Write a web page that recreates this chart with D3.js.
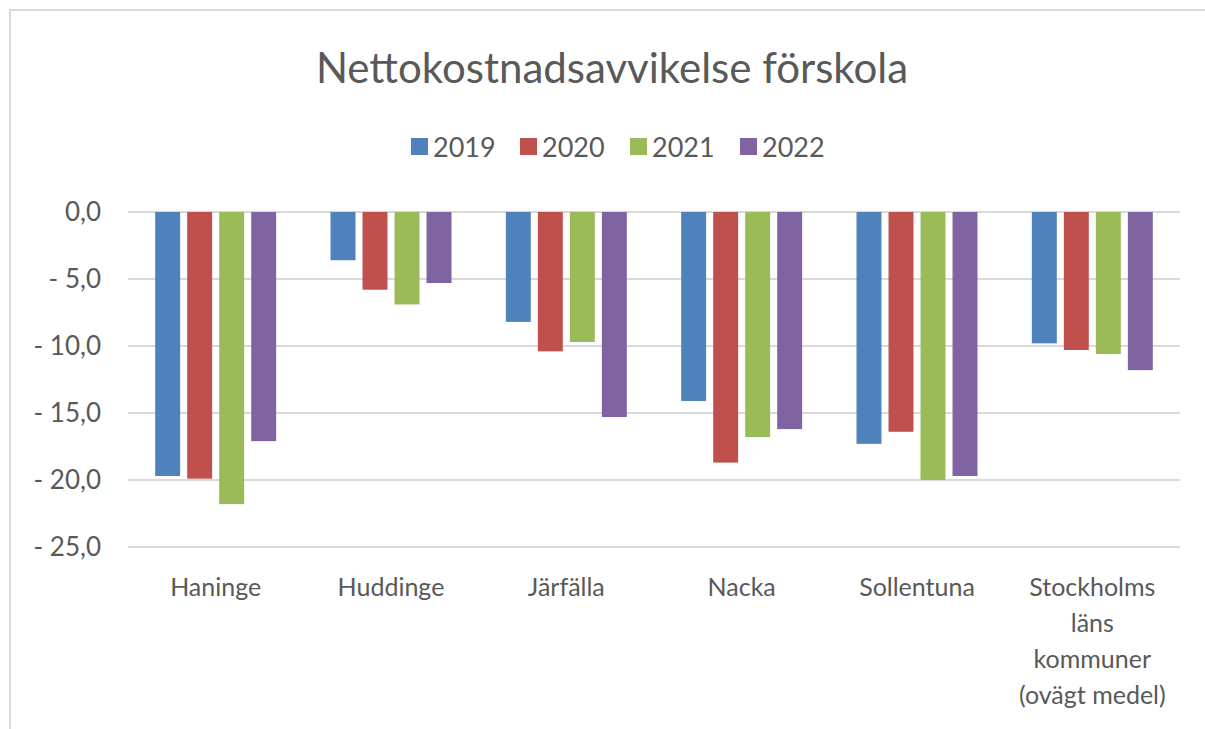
<!DOCTYPE html>
<html>
<head>
<meta charset="utf-8">
<script src="https://cdn.jsdelivr.net/npm/d3@7"></script>
<style>
  body { margin: 0; background: #fff; }
  text { font-family: Lato, "Open Sans", sans-serif; fill: #595959; }
</style>
</head>
<body>
<svg id="chart" width="1205" height="729"></svg>
<script>
var categories = ["Haninge", "Huddinge", "Järfälla", "Nacka", "Sollentuna", "Stockholms läns kommuner (ovägt medel)"];
var categoryLines = [["Haninge"], ["Huddinge"], ["Järfälla"], ["Nacka"], ["Sollentuna"], ["Stockholms", "läns", "kommuner", "(ovägt medel)"]];
var years = ["2019", "2020", "2021", "2022"];
var colors = ["#4f81bd", "#c0504d", "#9bbb59", "#8064a2"];
var values2019 = [-19.7, -3.6, -8.2, -14.1, -17.3, -9.8];
var values2020 = [-19.9, -5.8, -10.4, -18.7, -16.4, -10.3];
var values2021 = [-21.8, -6.9, -9.7, -16.8, -20.0, -10.6];
var values2022 = [-17.1, -5.3, -15.3, -16.2, -19.7, -11.8];
var yTicks = [0, -5, -10, -15, -20, -25];

var series = [values2019, values2020, values2021, values2022];

var svg = d3.select("#chart");
var margin = {top: 212, right: 25, bottom: 182, left: 128};
var width = 1205 - margin.left - margin.right;
var height = 729 - margin.top - margin.bottom;

// chart frame
svg.append("rect")
  .attr("x", 10).attr("y", 10)
  .attr("width", 1205).attr("height", 740)
  .attr("fill", "none")
  .attr("stroke", "#d9d9d9")
  .attr("stroke-width", 2);

var x0 = d3.scaleBand().domain(categories).range([0, width]).paddingInner(0.31).paddingOuter(0.155);
var x1 = d3.scaleBand().domain(years).range([0, x0.bandwidth()]).paddingInner(0.22);
var y = d3.scaleLinear().domain([0, -25]).range([0, height]);

var chart = svg.append("g")
  .attr("transform", "translate(" + margin.left + "," + margin.top + ")");

// gridlines
chart.selectAll(".grid")
  .data(yTicks)
  .enter().append("line")
  .attr("x1", 0).attr("x2", width)
  .attr("y1", function(d) { return y(d); })
  .attr("y2", function(d) { return y(d); })
  .attr("stroke", "#d9d9d9")
  .attr("stroke-width", 2);

// y labels
chart.selectAll(".ylab")
  .data(yTicks)
  .enter().append("text")
  .attr("x", -27)
  .attr("y", function(d) { return y(d); })
  .attr("dy", "0.36em")
  .attr("text-anchor", "end")
  .style("font-size", "26px")
  .text(function(d) { return d === 0 ? "0,0" : "- " + Math.abs(d).toFixed(1).replace(".", ","); });

// bars
var groups = chart.selectAll(".group")
  .data(categories)
  .enter().append("g")
  .attr("transform", function(d) { return "translate(" + x0(d) + ",0)"; });

groups.selectAll("rect")
  .data(function(d, i) { return series.map(function(s, j) { return {year: years[j], value: s[i], color: colors[j]}; }); })
  .enter().append("rect")
  .attr("x", function(d) { return x1(d.year); })
  .attr("y", y(0))
  .attr("width", x1.bandwidth())
  .attr("height", function(d) { return y(d.value) - y(0); })
  .attr("fill", function(d) { return d.color; });

// x labels
categories.forEach(function(c, i) {
  var t = chart.append("text")
    .attr("x", x0(c) + x0.bandwidth() / 2)
    .attr("y", height + 49)
    .attr("text-anchor", "middle")
    .style("font-size", "25px");
  categoryLines[i].forEach(function(line, k) {
    t.append("tspan")
      .attr("x", x0(c) + x0.bandwidth() / 2)
      .attr("dy", k === 0 ? 0 : 36)
      .text(line);
  });
});

// title
svg.append("text")
  .attr("x", 612)
  .attr("y", 83)
  .attr("text-anchor", "middle")
  .style("font-size", "42px")
  .text("Nettokostnadsavvikelse förskola");

// legend
var legendX = [411, 520, 630, 740];
var legend = svg.selectAll(".legend")
  .data(years)
  .enter().append("g")
  .attr("transform", function(d, i) { return "translate(" + legendX[i] + ",138)"; });

legend.append("rect")
  .attr("width", 17).attr("height", 17)
  .attr("fill", function(d, i) { return colors[i]; });

legend.append("text")
  .attr("x", 22)
  .attr("y", 9)
  .attr("dy", "0.36em")
  .style("font-size", "27px")
  .text(function(d) { return d; });
</script>
</body>
</html>
